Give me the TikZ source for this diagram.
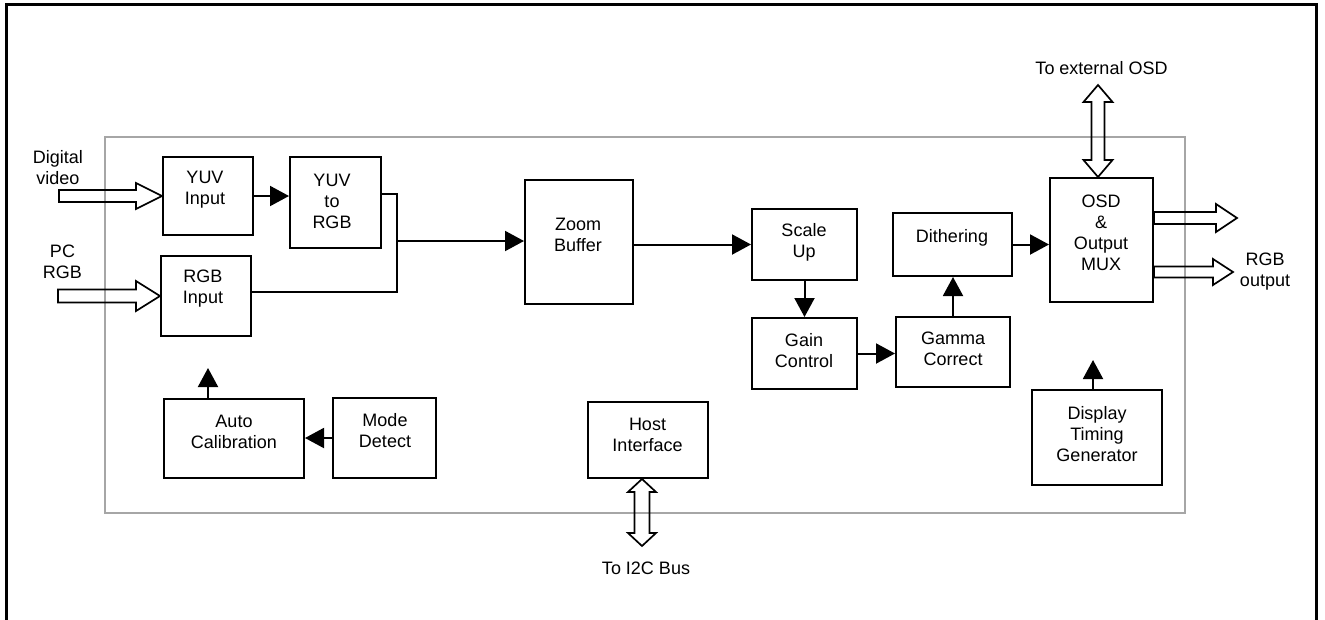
\documentclass[tikz,border=0pt]{standalone}
\usepackage{fontspec}
\setmainfont{Liberation Sans}
\usetikzlibrary{arrows.meta,calc}
\newcommand{\fatR}[5]{%
  \draw[fat] ($(#1)+(0,#3)$) -- ($(#2)+(-#5,#3)$) -- ($(#2)+(-#5,#4)$) -- (#2) -- ($(#2)+(-#5,-#4)$) -- ($(#2)+(-#5,-#3)$) -- ($(#1)+(0,-#3)$) -- cycle;}
\newcommand{\fatV}[5]{%
  \draw[fat] (#1) -- ($(#1)+(#4,-#5)$) -- ($(#1)+(#3,-#5)$) -- ($(#2)+(#3,#5)$) -- ($(#2)+(#4,#5)$) -- (#2) -- ($(#2)+(-#4,#5)$) -- ($(#2)+(-#3,#5)$) -- ($(#1)+(-#3,-#5)$) -- ($(#1)+(-#4,-#5)$) -- cycle;}
\begin{document}
\begin{tikzpicture}[x=1pt,y=-1pt,
  box/.style={draw,line width=2pt,inner sep=0pt},
  txt/.style={inner sep=0pt,align=center,font=\fontsize{18}{21}\selectfont},
  conn/.style={line width=2pt},
  arr/.style={conn,-{Triangle[length=19pt,width=20pt]}},
  fat/.style={line width=1.7pt,line join=miter}]
\useasboundingbox (0,0) rectangle (1325,619);
\draw[line width=3pt] (6,4) rectangle (1316,660);
\draw[line width=1.8pt,draw=black!35] (105,137) rectangle (1185,513);

% boxes
\node[box,minimum width=90pt,minimum height=78pt] (yuvin) at (208,196) {};
\node[box,minimum width=91pt,minimum height=91pt] (y2r) at (335.5,202.5) {};
\node[box,minimum width=90pt,minimum height=80pt] (rgbin) at (206,296) {};
\node[box,minimum width=108pt,minimum height=124pt] (zoom) at (579,242) {};
\node[box,minimum width=105pt,minimum height=71pt] (scale) at (804.5,244.5) {};
\node[box,minimum width=105pt,minimum height=71pt] (gain) at (804.5,353.5) {};
\node[box,minimum width=119pt,minimum height=63pt] (dith) at (952.5,244.5) {};
\node[box,minimum width=114pt,minimum height=70pt] (gamma) at (953,352) {};
\node[box,minimum width=103pt,minimum height=124pt] (osd) at (1101.5,240) {};
\node[box,minimum width=130pt,minimum height=95pt] (dtg) at (1097,437.5) {};
\node[box,minimum width=120pt,minimum height=76pt] (host) at (648,440) {};
\node[box,minimum width=140pt,minimum height=79pt] (auto) at (234,438.5) {};
\node[box,minimum width=103pt,minimum height=80pt] (mode) at (384.5,438) {};

% texts
\node[txt] (tdv) at (58,167.5) {Digital\\video};
\node[txt] (tpc) at (62.5,262) {PC\\RGB};
\node[txt] (tyuvin) at (205,189.5) {YUV\\Input};
\node[txt] (ty2r) at (332,201) {YUV\\to\\RGB};
\node[txt] (trgbin) at (203,289) {RGB\\Input};
\node[txt] (tzoom) at (578,234.5) {Zoom\\Buffer};
\node[txt] (tscale) at (804,242) {Scale\\Up};
\node[txt] (tgain) at (804,351) {Gain\\Control};
\node[txt] (tgamma) at (953,348.5) {Gamma\\Correct};
\node[txt] (tdith) at (952,238) {Dithering};
\node[txt] (tosd) at (1101,232.5) {OSD\\\&\\Output\\MUX};
\node[txt] (trgbout) at (1265,271.5) {RGB\\output};
\node[txt] (text) at (1101.5,68) {To external OSD};
\node[txt] (tdtg) at (1097,434) {Display\\Timing\\Generator};
\node[txt] (thost) at (647.5,435) {Host\\Interface};
\node[txt] (ti2c) at (646,568) {To I2C Bus};
\node[txt] (tauto) at (234,431.5) {Auto\\Calibration};
\node[txt] (tmode) at (385,431) {Mode\\Detect};

% connectors
\coordinate (jt) at (397,194);
\coordinate (jm) at (397,241);
\coordinate (jb) at (397,292);
\draw[arr] (yuvin.east) -- (yuvin.east -| y2r.west);
\draw[conn,line join=miter] (y2r.east |- jt) -- (jt) -- (jb) -- (rgbin.east |- jb);
\draw[arr] (jm) -- (jm -| zoom.west);
\draw[arr] (zoom.east |- scale.west) -- (scale.west);
\draw[arr] (scale.south) -- (gain.north);
\draw[arr] (gain.east) -- (gain.east -| gamma.west);
\draw[arr] (gamma.north) -- (gamma.north |- dith.south);
\draw[arr] (dith.east) -- (dith.east -| osd.west);
\draw[arr] (mode.west) -- (mode.west -| auto.east);
\coordinate (acup) at (208,368);
\draw[arr] (acup |- auto.north) -- (acup);
\coordinate (dtgup) at (1093,360);
\draw[arr] (dtgup |- dtg.north) -- (dtgup);

% hollow arrows
\coordinate (dvt) at (59,196);
\fatR{dvt}{yuvin.west}{6pt}{13pt}{26pt}
\coordinate (pct) at ($(rgbin.west)+(-102pt,0)$);
\fatR{pct}{rgbin.west}{6.5pt}{15pt}{24pt}
\coordinate (o1h) at (1237,218);
\coordinate (o1t) at (osd.east |- o1h);
\fatR{o1t}{o1h}{6pt}{14pt}{21pt}
\coordinate (o2h) at (1233,272);
\coordinate (o2t) at (osd.east |- o2h);
\fatR{o2t}{o2h}{5.5pt}{13pt}{20pt}
\coordinate (ext) at (1098,85);
\coordinate (extb) at (ext |- osd.north);
\fatV{ext}{extb}{6.5pt}{14.5pt}{17pt}
\coordinate (i2c) at (642,546);
\coordinate (i2ct) at (i2c |- host.south);
\fatV{i2ct}{i2c}{7.5pt}{14pt}{13pt}
\end{tikzpicture}
\end{document}
